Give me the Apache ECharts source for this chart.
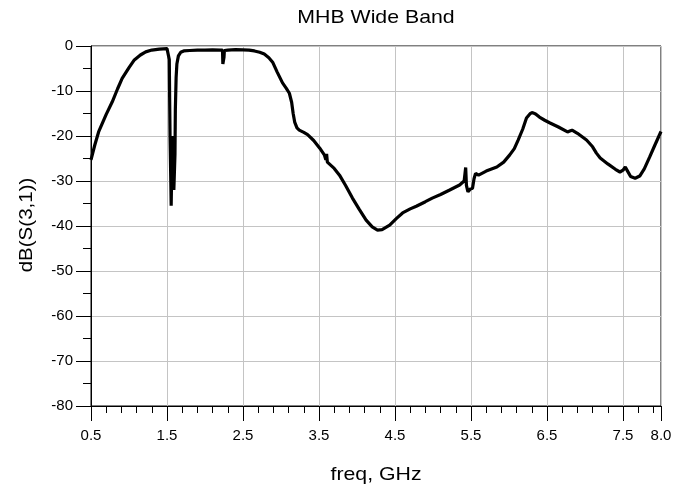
<!DOCTYPE html>
<html>
<head>
<meta charset="utf-8">
<script src="https://cdn.jsdelivr.net/npm/echarts@6/dist/echarts.min.js"></script>
<style>html,body{margin:0;padding:0;background:#fff}#c{width:691px;height:490px}</style>
</head>
<body>
<div id="c"></div>
<script>
var titleText = 'MHB Wide Band';
var xName = 'freq, GHz';
var yName = 'dB(S(3,1))';
var xMin = 0.5, xMax = 8.0;
var yMin = -80, yMax = 0, yStep = 10;

var freq = [0.50,0.55,0.60,0.70,0.78,0.85,0.91,1.00,1.07,1.15,1.22,1.30,1.40,1.50,1.52,1.53,1.535,1.54,1.55,1.555,1.56,1.565,1.57,1.575,1.58,1.59,1.60,1.605,1.61,1.62,1.63,1.65,1.68,1.72,1.80,1.90,2.00,2.10,2.20,2.23,2.235,2.245,2.25,2.255,2.30,2.40,2.50,2.58,2.65,2.72,2.78,2.84,2.89,2.95,3.02,3.07,3.11,3.14,3.16,3.18,3.21,3.24,3.30,3.35,3.43,3.51,3.57,3.59,3.60,3.61,3.63,3.70,3.77,3.85,3.94,4.03,4.12,4.20,4.27,4.33,4.43,4.52,4.60,4.70,4.78,4.90,4.99,5.10,5.22,5.35,5.41,5.43,5.44,5.46,5.49,5.52,5.54,5.56,5.60,5.70,5.84,5.93,6.01,6.07,6.12,6.18,6.23,6.28,6.31,6.35,6.40,6.47,6.54,6.65,6.77,6.80,6.83,6.90,7.02,7.10,7.15,7.20,7.30,7.40,7.46,7.50,7.53,7.56,7.60,7.66,7.72,7.78,7.85,7.92,8.00];
var dB = [-25.3,-22.0,-19.1,-15.2,-12.4,-9.5,-7.2,-4.8,-3.1,-2.0,-1.3,-0.9,-0.7,-0.6,-0.7,-3,-12,-20,-30,-35.5,-30,-22,-20,-22,-28,-32,-32,-24,-14,-7,-4,-2.2,-1.4,-1.1,-1.0,-0.9,-0.9,-0.85,-0.9,-0.9,-4,-4,-2.5,-1,-0.9,-0.8,-0.85,-0.9,-1.1,-1.4,-1.8,-2.6,-3.6,-5.8,-8.2,-9.4,-10.5,-12.5,-15.0,-16.9,-18.2,-18.7,-19.2,-19.7,-21.0,-22.7,-24.2,-25.3,-24.0,-25.8,-25.6,-27.2,-28.7,-31.0,-33.8,-36.3,-38.7,-40.2,-40.9,-40.8,-39.8,-38.3,-37.1,-36.2,-35.6,-34.6,-33.8,-33.0,-32.0,-30.9,-30.0,-27.0,-31,-32.4,-31.8,-31.6,-29.5,-28.3,-28.7,-27.8,-26.9,-25.8,-24.2,-22.8,-20.9,-18.5,-16.0,-15.0,-14.8,-15.1,-15.8,-16.5,-17.1,-18.0,-19.1,-18.9,-18.7,-19.4,-20.9,-22.4,-23.8,-24.9,-26.2,-27.4,-28.0,-27.6,-26.9,-27.8,-29.0,-29.4,-28.9,-27.3,-24.7,-22.0,-19.0];

// axis uses offset coordinates (freq - xMin) so that ticks start at 0.5
var pts = freq.map(function (f, i) { return [f - xMin, dB[i]]; });
var FONT = 'Liberation Sans, Arial, Helvetica, sans-serif';

var chart = echarts.init(document.getElementById('c'), null, {renderer: 'canvas'});
var gridPos = {left: 91, top: 46, width: 570, height: 360};
chart.setOption({
  animation: false,
  backgroundColor: '#fff',
  grid: [
    Object.assign({show: true, borderColor: '#000', borderWidth: 1}, gridPos),
    Object.assign({show: false}, gridPos)
  ],
  xAxis: [{
    type: 'value', gridIndex: 0,
    min: 0, max: xMax - xMin, interval: 1,
    axisLine: {show: true, onZero: false, lineStyle: {color: '#000', width: 1}},
    axisTick: {show: true, length: 15, lineStyle: {color: '#000', width: 1}},
    axisLabel: {color: '#000', fontSize: 15, fontFamily: FONT, margin: 22,
      formatter: function (v) { return (v + xMin).toFixed(1); }},
    splitLine: {show: true, lineStyle: {color: '#c4c4c4', width: 1}}
  }, {
    type: 'value', gridIndex: 1,
    min: 0, max: xMax - xMin, interval: 0.2,
    axisLine: {show: false, onZero: false},
    axisTick: {show: true, length: 7, lineStyle: {color: '#000', width: 1}},
    axisLabel: {show: false},
    splitLine: {show: false}
  }],
  yAxis: [{
    type: 'value', gridIndex: 0,
    min: yMin, max: yMax, interval: yStep,
    axisLine: {show: true, onZero: false, lineStyle: {color: '#000', width: 1}},
    axisTick: {show: true, length: 15, lineStyle: {color: '#000', width: 1}},
    minorTick: {show: true, splitNumber: 2, length: 8, lineStyle: {color: '#000', width: 1}},
    axisLabel: {color: '#000', fontSize: 15, fontFamily: FONT, margin: 18},
    splitLine: {show: true, lineStyle: {color: '#c4c4c4', width: 1}}
  }, {
    type: 'value', gridIndex: 1, min: yMin, max: yMax, show: false
  }],
  series: [{
    type: 'line', xAxisIndex: 0, yAxisIndex: 0,
    data: pts, showSymbol: false, symbol: 'none',
    lineStyle: {color: '#000', width: 3.2}, itemStyle: {color: '#000'},
    smooth: false, silent: true
  }],
  graphic: [
    {type: 'text', x: 376, y: 18, scaleX: 1.12,
      style: {text: titleText, font: '19px ' + FONT, fill: '#000', align: 'center', verticalAlign: 'middle'}},
    {type: 'text', x: 376, y: 475, scaleX: 1.12,
      style: {text: xName, font: '19px ' + FONT, fill: '#000', align: 'center', verticalAlign: 'middle'}},
    {type: 'text', x: 27, y: 225, rotation: Math.PI / 2, scaleX: 1.08,
      style: {text: yName, font: '19px ' + FONT, fill: '#000', align: 'center', verticalAlign: 'middle'}}
  ]
});
</script>
</body>
</html>
